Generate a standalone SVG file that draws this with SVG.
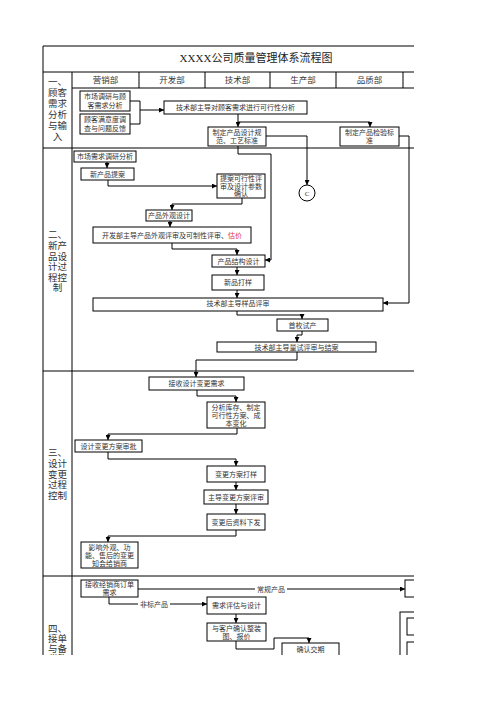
<svg xmlns="http://www.w3.org/2000/svg" width="496" height="702" viewBox="0 0 496 702">
<style>
.frame{stroke:#000;stroke-width:1;fill:none}
.box{fill:#fff;stroke:#000;stroke-width:1}
.c{fill:none;stroke:#000;stroke-width:1}
.t{font-family:"Liberation Serif","Noto Sans CJK SC",serif;font-size:7px;fill:#333;text-anchor:middle}
.h{font-family:"Liberation Serif","Noto Sans CJK SC",serif;font-size:8.5px;fill:#333;text-anchor:middle}
.lab{font-family:"Liberation Serif","Noto Sans CJK SC",serif;font-size:9.5px;fill:#333;text-anchor:middle}
.title{font-family:"Liberation Serif","Noto Sans CJK SC",serif;font-size:11px;fill:#222;text-anchor:middle}
.red{fill:#e0304a}
.lbl{font-family:"Liberation Serif","Noto Sans CJK SC",serif;font-size:7px;fill:#333;text-anchor:middle}
</style>
<defs>
<marker id="a" viewBox="0 0 6 6" refX="6" refY="3" markerWidth="5" markerHeight="5" orient="auto" markerUnits="userSpaceOnUse">
<path d="M0,0 L6,3 L0,6 z" fill="#000"/>
</marker>
<clipPath id="clip"><rect x="0" y="0" width="414" height="655"/></clipPath>
</defs>
<rect width="496" height="702" fill="#fff"/>
<g clip-path="url(#clip)">
<g id="table">
<path class="frame" d="M43,46 H420 M43,46 V660 M43,72 H420 M72,88 H420 M72,72 V660 M139,72 V88 M205,72 V88 M270,72 V88 M336,72 V88 M403,72 V88 M43,148 H420 M43,371 H420 M43,576 H420"/>
<text class="title" x="256" y="62">XXXX公司质量管理体系流程图</text>
<text class="h" x="105.5" y="83">营销部</text>
<text class="h" x="172" y="83">开发部</text>
<text class="h" x="237.5" y="83">技术部</text>
<text class="h" x="303" y="83">生产部</text>
<text class="h" x="369.5" y="83">品质部</text>
</g>
<g id="lane1">
<text class="lab" x="57.5" y="85">一、</text>
<text class="lab" x="57.5" y="96">顾客</text>
<text class="lab" x="57.5" y="107">需求</text>
<text class="lab" x="57.5" y="118">分析</text>
<text class="lab" x="57.5" y="129">与输</text>
<text class="lab" x="57.5" y="140">入</text>
</g>
<g id="lane2">
<text class="lab" x="57.5" y="238">二、</text>
<text class="lab" x="57.5" y="249">新产</text>
<text class="lab" x="57.5" y="259.5">品设</text>
<text class="lab" x="57.5" y="270">计过</text>
<text class="lab" x="57.5" y="280.5">程控</text>
<text class="lab" x="57.5" y="291">制</text>
</g>
<g id="lane3">
<text class="lab" x="57.5" y="456">三、</text>
<text class="lab" x="57.5" y="467">设计</text>
<text class="lab" x="57.5" y="477.5">变更</text>
<text class="lab" x="57.5" y="488">过程</text>
<text class="lab" x="57.5" y="498.5">控制</text>
</g>
<g id="lane4">
<text class="lab" x="57.5" y="632">四、</text>
<text class="lab" x="57.5" y="642">接单</text>
<text class="lab" x="57.5" y="652">与备</text>
<text class="lab" x="57.5" y="662">货管</text>
</g>

<g id="connectors">
<path class="c" d="M130,101 H140 V124 H130"/>
<path class="c" d="M140,110 H164" marker-end="url(#a)"/>
<path class="c" d="M238,114 V127" marker-end="url(#a)"/>
<path class="c" d="M238,122 H370 V127" marker-end="url(#a)"/>
<path class="c" d="M266,136 H307 V185" marker-end="url(#a)"/>
<path class="c" d="M238,146 V154 H271 V260 H265" marker-end="url(#a)"/>
<path class="c" d="M399,136 H409 V303 H383" marker-end="url(#a)"/>
<path class="c" d="M107,162 V168" marker-end="url(#a)"/>
<path class="c" d="M108,180 V186 H217" marker-end="url(#a)"/>
<path class="c" d="M242,198 V204 H172 V210" marker-end="url(#a)"/>
<path class="c" d="M170,221 V227" marker-end="url(#a)"/>
<path class="c" d="M172,243 V249 H237 V255" marker-end="url(#a)"/>
<path class="c" d="M237,267 V275" marker-end="url(#a)"/>
<path class="c" d="M237,290 V298" marker-end="url(#a)"/>
<path class="c" d="M237,311 V315 H302 V319" marker-end="url(#a)"/>
<path class="c" d="M302,331 V335 H297 V342" marker-end="url(#a)"/>
<path class="c" d="M297,352 V360 H196 V377" marker-end="url(#a)"/>
<path class="c" d="M197,390 V396 H236 V402" marker-end="url(#a)"/>
<path class="c" d="M237,428 V434 H108 V440" marker-end="url(#a)"/>
<path class="c" d="M108,452 V459 H236 V466" marker-end="url(#a)"/>
<path class="c" d="M236,482 V490" marker-end="url(#a)"/>
<path class="c" d="M236,504 V514" marker-end="url(#a)"/>
<path class="c" d="M236,530 V536 H108 V542" marker-end="url(#a)"/>
<path class="c" d="M138,589 H405" marker-end="url(#a)"/>
<path class="c" d="M109,597 V604 H207" marker-end="url(#a)"/>
<path class="c" d="M236,614 V623" marker-end="url(#a)"/>
<path class="c" d="M236,641 V649 H274 V638 H309 V643" marker-end="url(#a)"/>
<rect x="255" y="585" width="32" height="8" fill="#fff"/>
<text class="lbl" x="271" y="591.5">常规产品</text>
<rect x="138" y="600" width="32" height="8" fill="#fff"/>
<text class="lbl" x="154" y="606.5">非标产品</text>
</g>

<g id="n1"><rect class="box" x="80" y="91" width="50" height="20"/><text class="t" x="105" y="99">市场调研与顾</text><text class="t" x="105" y="108">客需求分析</text></g>
<g id="n2"><rect class="box" x="80" y="114" width="50" height="20"/><text class="t" x="105" y="122">顾客满意度调</text><text class="t" x="105" y="131">查与问题反馈</text></g>
<g id="n3"><rect class="box" x="164" y="101" width="143" height="13"/><text class="t" x="235.5" y="110">技术部主导对顾客需求进行可行性分析</text></g>
<g id="n4"><rect class="box" x="208" y="127" width="58" height="19"/><text class="t" x="237" y="135">制定产品设计规</text><text class="t" x="237" y="143">范、工艺标准</text></g>
<g id="n5"><rect class="box" x="340" y="127" width="59" height="19"/><text class="t" x="369.5" y="135">制定产品检验标</text><text class="t" x="369.5" y="143">准</text></g>
<g id="n6"><circle class="box" cx="307" cy="193" r="8"/><text class="t" x="307" y="195.5">C</text></g>
<g id="n7"><rect class="box" x="74" y="151" width="62" height="11"/><text class="t" x="105" y="159">市场需求调研分析</text></g>
<g id="n8"><rect class="box" x="81" y="168" width="53" height="12"/><text class="t" x="107.5" y="176.5">新产品提案</text></g>
<g id="n9"><rect class="box" x="217" y="174" width="48" height="24"/><text class="t" x="241" y="181">提案可行性评</text><text class="t" x="241" y="188.5">审及设计参数</text><text class="t" x="241" y="196">确认</text></g>
<g id="n10"><rect class="box" x="146" y="210" width="46" height="11"/><text class="t" x="169" y="218">产品外观设计</text></g>
<g id="n11"><rect class="box" x="93" y="227" width="158" height="16"/><text class="t" x="172" y="237.5">开发部主导产品外观评审及可制性评审、<tspan class="red">估价</tspan></text></g>
<g id="n12"><rect class="box" x="212" y="255" width="53" height="12"/><text class="t" x="238.5" y="263.5">产品结构设计</text></g>
<g id="n13"><rect class="box" x="212" y="275" width="52" height="15"/><text class="t" x="238" y="285">新品打样</text></g>
<g id="n14"><rect class="box" x="93" y="298" width="290" height="13"/><text class="t" x="238" y="306">技术部主导样品评审</text></g>
<g id="n15"><rect class="box" x="277" y="319" width="51" height="12"/><text class="t" x="302.5" y="327.5">首枚试产</text></g>
<g id="n16"><rect class="box" x="217" y="342" width="159" height="10"/><text class="t" x="296.5" y="349.5">技术部主导量试评审与结案</text></g>
<g id="n17"><rect class="box" x="149" y="377" width="95" height="13"/><text class="t" x="196.5" y="386">接收设计变更需求</text></g>
<g id="n18"><rect class="box" x="207" y="402" width="58" height="26"/><text class="t" x="236" y="409.5">分析库存、制定</text><text class="t" x="236" y="417.5">可行性方案、成</text><text class="t" x="236" y="425.5">本变化</text></g>
<g id="n19"><rect class="box" x="75" y="440" width="67" height="12"/><text class="t" x="108.5" y="448.5">设计变更方案审批</text></g>
<g id="n20"><rect class="box" x="207" y="466" width="58" height="16"/><text class="t" x="236" y="476.5">变更方案打样</text></g>
<g id="n21"><rect class="box" x="204" y="490" width="64" height="14"/><text class="t" x="236" y="499.5">主导变更方案评审</text></g>
<g id="n22"><rect class="box" x="207" y="514" width="58" height="16"/><text class="t" x="236" y="524.5">变更后资料下发</text></g>
<g id="n23"><rect class="box" x="81" y="542" width="57" height="26"/><text class="t" x="109.5" y="549.5">影响外观、功</text><text class="t" x="109.5" y="557.5">能、售后的变更</text><text class="t" x="109.5" y="565.5">知会给销商</text></g>
<g id="n24"><rect class="box" x="81" y="580" width="57" height="17"/><text class="t" x="109.5" y="587">接收经销商订单</text><text class="t" x="109.5" y="595">需求</text></g>
<g id="n25"><rect class="box" x="207" y="597" width="59" height="17"/><text class="t" x="236.5" y="608">需求评估与设计</text></g>
<g id="n26"><rect class="box" x="207" y="623" width="59" height="18"/><text class="t" x="236.5" y="630.5">与客户确认整装</text><text class="t" x="236.5" y="638.5">图、报价</text></g>
<g id="n27"><rect class="box" x="282" y="643" width="57" height="20"/><text class="t" x="310.5" y="652">确认交期</text></g>
<g id="n28"><rect class="box" x="405" y="580" width="60" height="17"/><text class="t" x="435" y="591">安排生产</text></g>
<g id="n29"><rect class="box" x="400" y="612" width="70" height="60"/><rect class="box" x="407" y="618" width="56" height="17"/><rect class="box" x="407" y="642" width="56" height="17"/><text class="t" x="435" y="650">检验</text></g>
</g>
</svg>
